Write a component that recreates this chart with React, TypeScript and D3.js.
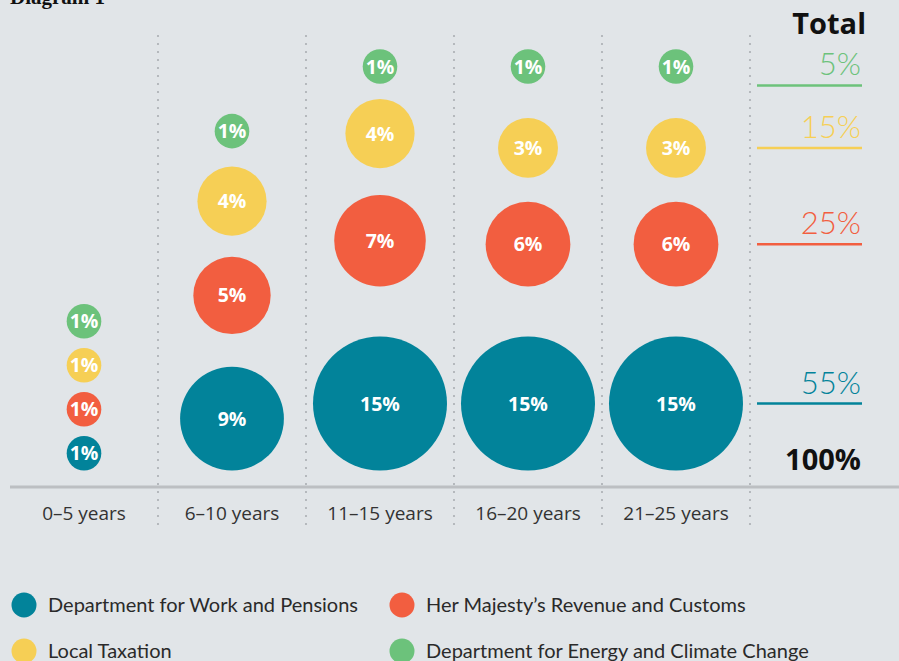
import React from "react";
import * as d3 from "d3";

const categories = ["0–5 years", "6–10 years", "11–15 years", "16–20 years", "21–25 years"];
const seriesNames = [
  "Department for Work and Pensions",
  "Her Majesty’s Revenue and Customs",
  "Local Taxation",
  "Department for Energy and Climate Change",
];
const dwpValues = [1, 9, 15, 15, 15];
const hmrcValues = [1, 5, 7, 6, 6];
const localValues = [1, 4, 4, 3, 3];
const deccValues = [1, 1, 1, 1, 1];
const seriesTotals = [55, 25, 15, 5];
const grandTotal = 100;
const seriesColors = ["#02839a", "#f25e40", "#f6cf55", "#6cc27b"];

const W = 899;
const H = 661;
const BG = "#e1e5e8";

export default function App() {
  const seriesValues = [dwpValues, hmrcValues, localValues, deccValues];
  const baseY = 487;
  const x = d3.scaleBand<string>().domain(categories).range([10, 750]);
  const r = d3.scaleSqrt().domain([0, 15]).range([0, 67]);
  // spacing above a bubble grows with that bubble's value
  const gap = d3.scaleLinear().domain([0, 15]).range([6.5, 50]);

  // stack bubbles upward from baseline
  const stacks = categories.map((_, ci) => {
    const ys: number[] = [];
    let prevY = 0;
    let prevR = 0;
    let prevV = 0;
    seriesValues.forEach((vals, si) => {
      const v = vals[ci];
      const rr = r(v);
      let cy;
      if (si === 0) cy = baseY - 16.5 - rr;
      else cy = prevY - prevR - rr - gap(prevV);
      ys.push(cy);
      prevY = cy;
      prevR = rr;
      prevV = v;
    });
    return ys;
  });
  const last = seriesValues.length - 1;
  const topRow = d3.min(stacks, (s) => s[last]) as number;
  const placed = stacks.map((s) =>
    s.map((y, si) => (si === last && y - topRow < 30 ? topRow + 3 : y))
  );
  const totalLineY = stacks[stacks.length - 1];

  const bubbleFont = "'Open Sans', sans-serif";
  const legendFont = "Lato, 'Open Sans', sans-serif";

  return (
    <svg
      width={W}
      height={H}
      style={{ position: "absolute", left: 0, top: 0, display: "block" }}
    >
      <rect x={0} y={0} width={W} height={H} fill={BG} />
      <text x={10} y={4} fontFamily="'Liberation Serif', serif" fontWeight={700} fontSize={21} fill="#111">
        Diagram 1
      </text>

      {/* dotted separators */}
      {categories.map((c) => (
        <line
          key={"sep" + c}
          x1={(x(c) as number) + x.bandwidth()}
          x2={(x(c) as number) + x.bandwidth()}
          y1={36}
          y2={527}
          stroke="#abafb3"
          strokeWidth={2.2}
          strokeDasharray="0 8"
          strokeLinecap="round"
        />
      ))}

      {/* baseline */}
      <line x1={10} x2={W} y1={baseY} y2={baseY} stroke="#bcbfc2" strokeWidth={3} />

      {/* bubbles */}
      {categories.map((c, ci) => {
        const cx = (x(c) as number) + x.bandwidth() / 2;
        return (
          <g key={"col" + c}>
            {seriesValues.map((vals, si) => (
              <g key={si}>
                <circle cx={cx} cy={placed[ci][si]} r={r(vals[ci])} fill={seriesColors[si]} />
                <text
                  x={cx}
                  y={placed[ci][si]}
                  dy="0.36em"
                  textAnchor="middle"
                  fontFamily={bubbleFont}
                  fontWeight={700}
                  fontSize={19.5}
                  fill="#fff"
                >
                  {vals[ci]}%
                </text>
              </g>
            ))}
            <text
              x={cx}
              y={520}
              textAnchor="middle"
              fontFamily={bubbleFont}
              fontSize={19}
              fill="#333"
            >
              {c}
            </text>
          </g>
        );
      })}

      {/* totals */}
      <text x={866} y={34} textAnchor="end" fontFamily={bubbleFont} fontWeight={700} fontSize={29} fill="#111">
        Total
      </text>
      {seriesTotals.map((t, si) => (
        <g key={"tot" + si}>
          <line x1={757} x2={862} y1={totalLineY[si]} y2={totalLineY[si]} stroke={seriesColors[si]} strokeWidth={2.5} />
          <text
            x={861}
            y={totalLineY[si] - 10}
            textAnchor="end"
            fontFamily={legendFont}
            fontWeight={300}
            fontSize={31}
            fill={seriesColors[si]}
          >
            {t}%
          </text>
        </g>
      ))}
      <text x={861} y={470} textAnchor="end" fontFamily={bubbleFont} fontWeight={700} fontSize={29} fill="#111">
        {grandTotal}%
      </text>

      {/* legend */}
      {seriesNames.map((n, si) => {
        const col = si % 2;
        const row = Math.floor(si / 2);
        const lx = col === 0 ? 24 : 402;
        const ly = 605 + row * 46;
        return (
          <g key={"leg" + si}>
            <circle cx={lx} cy={ly} r={12.5} fill={seriesColors[si]} />
            <text x={lx + 24} y={ly} dy="0.35em" fontFamily={legendFont} fontSize={20} fill="#2a2a2a">
              {n}
            </text>
          </g>
        );
      })}
    </svg>
  );
}
